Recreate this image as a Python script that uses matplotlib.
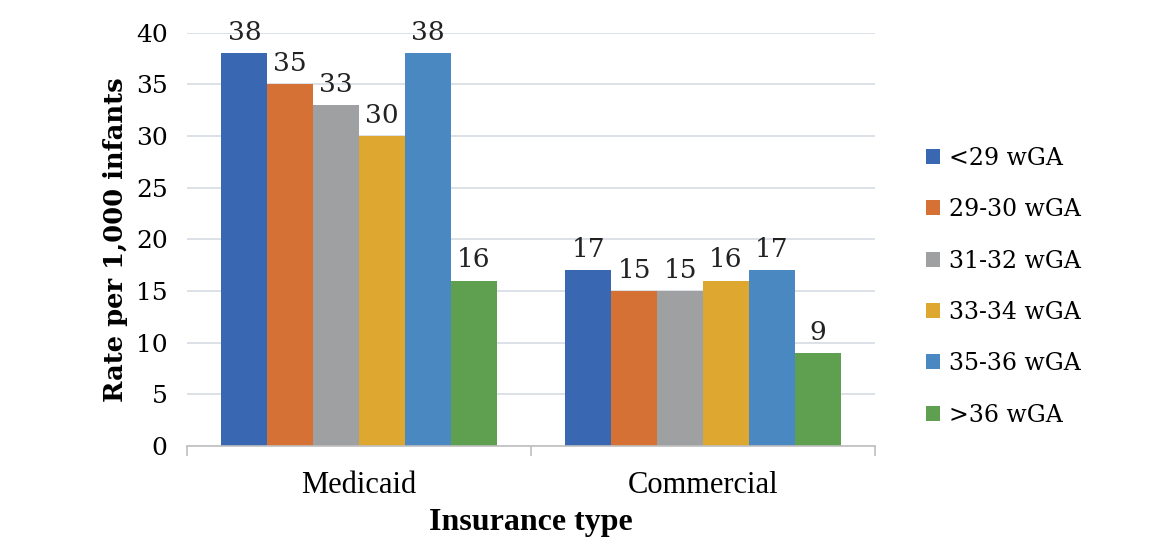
import matplotlib.pyplot as plt
import numpy as np

categories = ["Medicaid", "Commercial"]
series = ["<29 wGA", "29-30 wGA", "31-32 wGA", "33-34 wGA", "35-36 wGA", ">36 wGA"]
medicaid = [38, 35, 33, 30, 38, 16]
commercial = [17, 15, 15, 16, 17, 9]
colors = ["#3A67B1", "#D57134", "#9EA0A2", "#DEA72F", "#4A88C2", "#5FA050"]

values = np.array([medicaid, commercial])  # rows: categories, cols: series

fig = plt.figure(figsize=(11.64, 5.38), dpi=100)
ax = fig.add_axes([0.1607, 0.171, 0.591, 0.768])

x = np.arange(len(categories))
group = 0.80
w = group / len(series)
for i, (name, color) in enumerate(zip(series, colors)):
    pos = x - group / 2 + w * (i + 0.5)
    bars = ax.bar(pos, values[:, i], width=w, color=color, label=name, zorder=2)
    for b, v in zip(bars, values[:, i]):
        ax.annotate(f"{v}", (b.get_x() + b.get_width() / 2, v), xytext=(0, 6),
                    textcoords="offset points", ha="center", va="bottom",
                    fontsize=19, family="DejaVu Serif", color="#222222")

ax.set_xlim(-0.5, len(categories) - 0.5)
ax.set_ylim(0, 40)
ax.set_yticks(range(0, 41, 5))
ax.set_yticklabels([str(t) for t in range(0, 41, 5)], family="DejaVu Serif", fontsize=18)
ax.yaxis.grid(True, color="#D5DCE4", lw=1.2, zorder=0)
ax.tick_params(axis="y", length=0, pad=14)

ax.set_xticks(x)
ax.set_xticklabels(categories, family="Liberation Serif", fontsize=22)
ax.set_xticks([-0.5, 0.5, 1.5], minor=True)
ax.tick_params(axis="x", which="major", length=0, pad=18)
ax.tick_params(axis="x", which="minor", length=7, color="#BFBFBF", width=1.2)

for s in ["top", "right", "left"]:
    ax.spines[s].set_visible(False)
ax.spines["bottom"].set_color("#BFBFBF")
ax.spines["bottom"].set_linewidth(1.2)

ax.set_xlabel("Insurance type", family="Liberation Serif", fontsize=23,
              fontweight="bold", labelpad=6)
ax.set_ylabel("Rate per 1,000 infants", family="DejaVu Serif", fontsize=18.5,
              fontweight="bold", labelpad=6)

fig.legend(loc="center left", bbox_to_anchor=(0.777, 0.467), frameon=False,
           prop={"family": "DejaVu Serif", "size": 17}, handlelength=0.6,
           handleheight=0.6, handletextpad=0.4, labelspacing=1.2)

fig.savefig("out.png", dpi=100, facecolor="white")
